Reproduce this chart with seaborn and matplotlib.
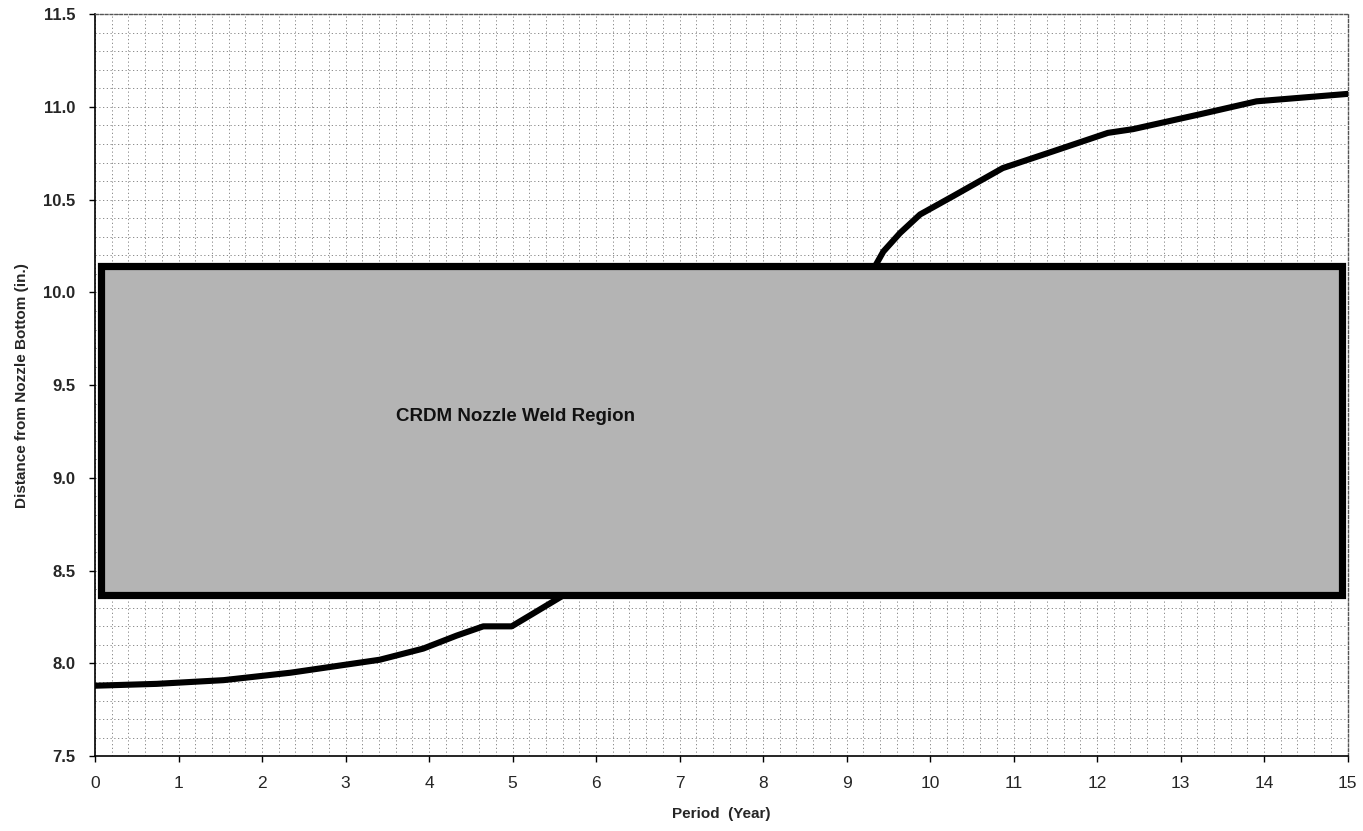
import matplotlib
matplotlib.use("Agg")
import matplotlib.pyplot as plt
from matplotlib.ticker import MultipleLocator
from matplotlib.patches import Rectangle
import seaborn as sns
import pandas as pd

# ---- data ----
lower_years = [0.0, 0.74, 1.54, 2.34, 3.41, 3.93, 4.33, 4.65, 4.99, 5.25, 5.62]
lower_dist = [7.88, 7.89, 7.91, 7.95, 8.02, 8.08, 8.15, 8.20, 8.20, 8.27, 8.37]
upper_years = [9.34, 9.44, 9.64, 9.88, 10.28, 10.87, 11.47, 12.13, 12.43, 13.23, 13.91, 15.0]
upper_dist = [10.14, 10.22, 10.32, 10.42, 10.52, 10.67, 10.76, 10.86, 10.88, 10.96, 11.03, 11.07]
weld_bottom = 8.37
weld_top = 10.14
weld_label = "CRDM Nozzle Weld Region"
x_ticks = list(range(0, 16))
y_ticks = [7.5, 8.0, 8.5, 9.0, 9.5, 10.0, 10.5, 11.0, 11.5]

sns.set_theme(style="white")
plt.rcParams["font.family"] = ["Liberation Sans", "DejaVu Sans"]

fig = plt.figure(figsize=(13.63, 8.31), dpi=100)
ax = fig.add_axes([0.0697, 0.090, 0.919, 0.893])

low = pd.DataFrame({"year": lower_years, "dist": lower_dist})
up = pd.DataFrame({"year": upper_years, "dist": upper_dist})
sns.lineplot(data=low, x="year", y="dist", color="black", linewidth=4.4, ax=ax, zorder=3, sort=False)
sns.lineplot(data=up, x="year", y="dist", color="black", linewidth=4.4, ax=ax, zorder=3, sort=False)

rect = Rectangle((0.07, weld_bottom), 14.86, weld_top - weld_bottom,
                 facecolor="#b4b4b4", edgecolor="black", linewidth=5.2, zorder=4)
ax.add_patch(rect)
ax.text(3.6, 9.33, weld_label, fontsize=13.5, fontweight="bold", color="#111111",
        ha="left", va="center", zorder=5)

ax.set_xlim(0, 15)
ax.set_ylim(7.5, 11.5)
ax.set_xticks(x_ticks)
ax.set_xticklabels([str(t) for t in x_ticks], fontsize=12.5)
ax.set_yticks(y_ticks)
ax.set_yticklabels([f"{t:.1f}" for t in y_ticks], fontsize=12, fontweight="bold")
ax.xaxis.set_minor_locator(MultipleLocator(0.2))
ax.yaxis.set_minor_locator(MultipleLocator(0.1))
ax.grid(which="both", color="#7a7a7a", linewidth=0.6, linestyle=(0, (1.5, 3)), zorder=0)
ax.set_axisbelow(True)

ax.tick_params(axis="both", which="major", direction="out", length=4, width=1, color="black",
               bottom=True, left=True, pad=10)
ax.tick_params(axis="both", which="minor", length=0)

for s in ["left", "bottom"]:
    ax.spines[s].set_color("black")
    ax.spines[s].set_linewidth(1.2)
for s in ["top", "right"]:
    ax.spines[s].set_color("#555555")
    ax.spines[s].set_linewidth(1.0)
    ax.spines[s].set_linestyle((0, (2, 1.5)))

ax.set_xlabel("Period  (Year)", fontsize=11, fontweight="bold", labelpad=12)
ax.set_ylabel("Distance from Nozzle Bottom (in.)", fontsize=11, fontweight="bold", labelpad=10)

fig.savefig("out.png", dpi=100)
